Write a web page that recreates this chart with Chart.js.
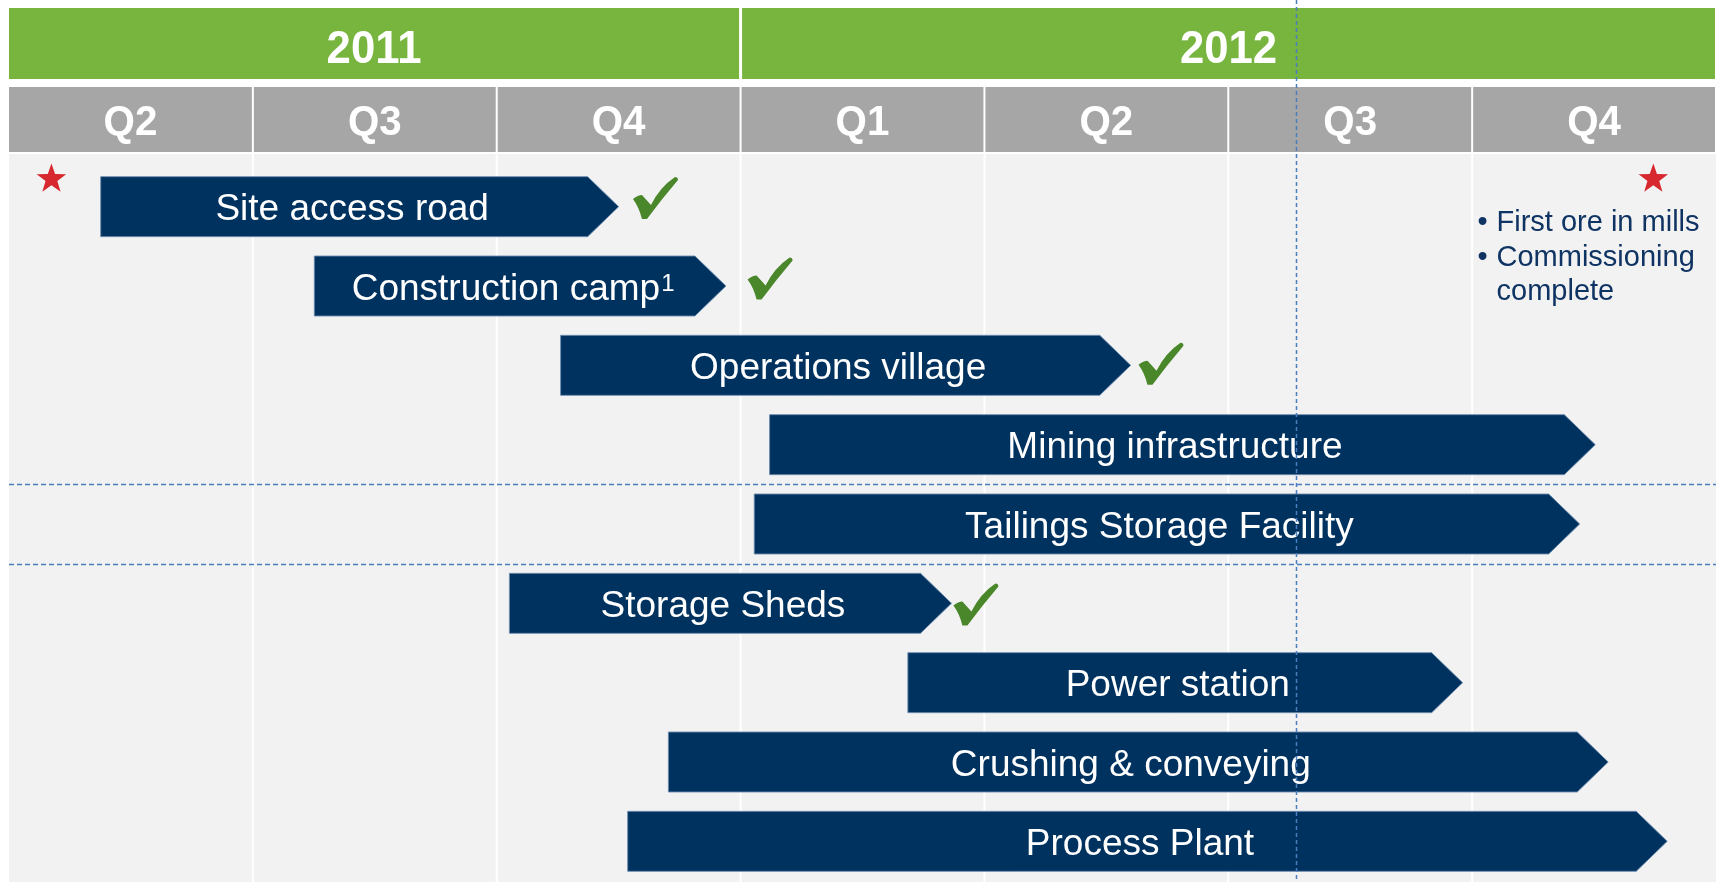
<!DOCTYPE html>
<html>
<head>
<meta charset="utf-8">
<title>Project timeline</title>
<script src="https://cdn.jsdelivr.net/npm/chart.js@4.4.1/dist/chart.umd.min.js"></script>
<style>
  html, body { margin: 0; padding: 0; background: #fff; }
  #wrap { position: relative; width: 1717px; height: 882px; }
</style>
</head>
<body>
<div id="wrap"><canvas id="timeline"></canvas></div>
<script>
// time axis in quarters, 0 = start of Q2 2011, 7 = end of Q4 2012
const quarterLabels = ["Q2", "Q3", "Q4", "Q1", "Q2", "Q3", "Q4"];
const yearLabels = ["2011", "2012"];
const yearStarts = [0, 3];
const yearEnds = [3, 7];

const tasks = [
  "Site access road",
  "Construction camp",
  "Operations village",
  "Mining infrastructure",
  "Tailings Storage Facility",
  "Storage Sheds",
  "Power station",
  "Crushing & conveying",
  "Process Plant",
];
const taskStart = [0.376, 1.252, 2.262, 3.119, 3.056, 2.052, 3.686, 2.704, 2.537];
const taskEnd = [2.5, 2.94, 4.6, 6.505, 6.441, 3.865, 5.961, 6.558, 6.8];
const footnotes = ["", "1", "", "", "", "", "", "", ""];

// finished tasks get a tick just past the arrow head (x in quarters, y in rows)
const doneTickAt = [2.651, 3.121, 4.724, 3.965];
const doneTickRow = [-0.11, 0.905, 1.98, 5.015];

// milestones (stars) and the notes under the last one
const milestoneAt = [0.174, 6.743];
const noteAt = 6.1;
const noteBullets = [["First ore in mills"], ["Commissioning", "complete"]];

const todayAt = 5.277;
const groupBreakAfter = [3, 4];

const FONT = "'Liberation Sans', Arial, sans-serif";
const NAVY = "#00325f";

function squeezedText(ctx, text, x, y, sx) {
  ctx.save();
  ctx.translate(x, y);
  ctx.scale(sx, 1);
  ctx.fillText(text, 0, 0);
  ctx.restore();
}

function drawStar(ctx, cx, cy, R, r) {
  ctx.beginPath();
  for (let i = 0; i < 10; i++) {
    const a = -Math.PI / 2 + (i * Math.PI) / 5;
    const rad = i % 2 ? r : R;
    ctx.lineTo(cx + rad * Math.cos(a), cy + rad * Math.sin(a));
  }
  ctx.closePath();
  ctx.fill();
}

function drawTick(ctx, cx, cy) {
  const bx = cx - 22.5, by = cy - 21;
  ctx.beginPath();
  ctx.moveTo(bx + 0, by + 22);
  ctx.quadraticCurveTo(bx + 5, by + 18, bx + 9, by + 18);
  ctx.lineTo(bx + 18, by + 28);
  ctx.quadraticCurveTo(bx + 27, by + 10, bx + 42, by + 0);
  ctx.quadraticCurveTo(bx + 45, by + 0, bx + 45, by + 3);
  ctx.quadraticCurveTo(bx + 28, by + 23, bx + 14, by + 42);
  ctx.lineTo(bx + 9, by + 42);
  ctx.quadraticCurveTo(bx + 6, by + 30, bx + 0, by + 22);
  ctx.closePath();
  ctx.fill();
}

const timelinePlugin = {
  id: "timeline",
  beforeDatasetsDraw(chart) {
    const { ctx, chartArea } = chart;
    const x = chart.scales.x;
    const w = chartArea.right - chartArea.left;
    ctx.save();

    // plot body
    ctx.fillStyle = "#f2f2f2";
    ctx.fillRect(chartArea.left, 154, w, chart.height - 154);
    ctx.fillStyle = "#ffffff";
    for (let i = 1; i < quarterLabels.length; i++) {
      ctx.fillRect(x.getPixelForValue(i) - 1, 154, 2, chart.height - 154);
    }

    // year band
    ctx.textAlign = "center";
    ctx.textBaseline = "alphabetic";
    yearLabels.forEach((label, i) => {
      const x0 = x.getPixelForValue(yearStarts[i]) + (i ? 1.5 : 0);
      const x1 = x.getPixelForValue(yearEnds[i]) - (i < yearLabels.length - 1 ? 1.5 : 1);
      ctx.fillStyle = "#77b53f";
      ctx.fillRect(x0, 8, x1 - x0, 71);
      ctx.fillStyle = "#ffffff";
      ctx.font = "bold 47px " + FONT;
      squeezedText(ctx, label, (x0 + x1) / 2, 63, 0.93);
    });

    // quarter band
    quarterLabels.forEach((label, i) => {
      const x0 = x.getPixelForValue(i) + (i ? 1 : 0);
      const x1 = x.getPixelForValue(i + 1) - 1;
      ctx.fillStyle = "#a6a6a6";
      ctx.fillRect(x0, 87, x1 - x0, 65);
      ctx.fillStyle = "#ffffff";
      ctx.font = "bold 42px " + FONT;
      squeezedText(ctx, label, (x0 + x1) / 2, 135, 0.96);
    });
    ctx.restore();
  },
  afterDatasetsDraw(chart) {
    const { ctx, chartArea } = chart;
    const x = chart.scales.x;
    const y = chart.scales.y;
    const row0 = y.getPixelForValue(0);
    const pitch = y.getPixelForValue(1) - row0;
    const tip = 31;
    ctx.save();

    // chevron bars with their labels
    chart.getDatasetMeta(0).data.forEach((bar, i) => {
      const { x: end, y: cy, base, height } = bar.getProps(["x", "y", "base", "height"], true);
      const top = cy - height / 2, bottom = cy + height / 2;
      ctx.beginPath();
      ctx.moveTo(base, top);
      ctx.lineTo(end - tip, top);
      ctx.lineTo(end, cy);
      ctx.lineTo(end - tip, bottom);
      ctx.lineTo(base, bottom);
      ctx.closePath();
      ctx.fillStyle = NAVY;
      ctx.fill();
      ctx.strokeStyle = "rgba(110,140,175,0.9)";
      ctx.lineWidth = 1;
      ctx.stroke();

      const cx = (base + end - tip) / 2 + 8;
      const baseline = cy + 13.5;
      ctx.fillStyle = "#ffffff";
      ctx.textBaseline = "alphabetic";
      ctx.font = "37px " + FONT;
      if (footnotes[i]) {
        const mainW = ctx.measureText(tasks[i]).width;
        ctx.font = "24px " + FONT;
        const supW = ctx.measureText(footnotes[i]).width;
        const left = cx - (mainW + supW) / 2;
        ctx.textAlign = "left";
        ctx.font = "37px " + FONT;
        ctx.fillText(tasks[i], left, baseline);
        ctx.font = "24px " + FONT;
        ctx.fillText(footnotes[i], left + mainW + 1, baseline - 9);
      } else {
        ctx.textAlign = "center";
        ctx.fillText(tasks[i], cx, baseline);
      }
    });

    // ticks for completed work
    ctx.fillStyle = "#4a872b";
    doneTickAt.forEach((q, k) => {
      drawTick(ctx, x.getPixelForValue(q), row0 + doneTickRow[k] * pitch);
    });

    // milestones
    const starY = row0 - 0.36 * pitch;
    ctx.fillStyle = "#d7282f";
    milestoneAt.forEach((m) => drawStar(ctx, x.getPixelForValue(m), starY + 1, 15.5, 6.2));

    // notes under the last milestone
    const nx = x.getPixelForValue(noteAt);
    let ny = starY + 53;
    ctx.fillStyle = "#0f3463";
    ctx.font = "29px " + FONT;
    ctx.textAlign = "left";
    ctx.textBaseline = "alphabetic";
    noteBullets.forEach((lines) => {
      ctx.fillText("\u2022", nx - 19, ny);
      lines.forEach((line) => {
        ctx.fillText(line, nx, ny);
        ny += 34.5;
      });
    });

    // dashed group separators and today line
    ctx.strokeStyle = "#4a7ebf";
    ctx.lineWidth = 1.5;
    ctx.setLineDash([5, 3]);
    groupBreakAfter.forEach((row) => {
      const gy = Math.round((y.getPixelForValue(row) + y.getPixelForValue(row + 1)) / 2) + 0.5;
      ctx.beginPath();
      ctx.moveTo(chartArea.left, gy);
      ctx.lineTo(chartArea.right, gy);
      ctx.stroke();
    });
    const tx = Math.round(x.getPixelForValue(todayAt)) + 0.5;
    ctx.setLineDash([4, 3]);
    ctx.beginPath();
    ctx.moveTo(tx, 0);
    ctx.lineTo(tx, chart.height);
    ctx.stroke();
    ctx.restore();
  },
};

new Chart(document.getElementById("timeline"), {
  type: "bar",
  data: {
    labels: tasks,
    datasets: [
      {
        data: tasks.map((t, i) => [taskStart[i], taskEnd[i]]),
        backgroundColor: "rgba(0,0,0,0)",
        borderWidth: 0,
        barThickness: 60,
      },
    ],
  },
  options: {
    indexAxis: "y",
    responsive: true,
    maintainAspectRatio: false,
    animation: false,
    layout: { padding: { left: 9, right: 1, top: 167, bottom: 1 } },
    plugins: { legend: { display: false }, tooltip: { enabled: false } },
    scales: {
      x: { type: "linear", min: 0, max: 7, display: false },
      y: { display: false },
    },
  },
  plugins: [timelinePlugin],
});
</script>
</body>
</html>
